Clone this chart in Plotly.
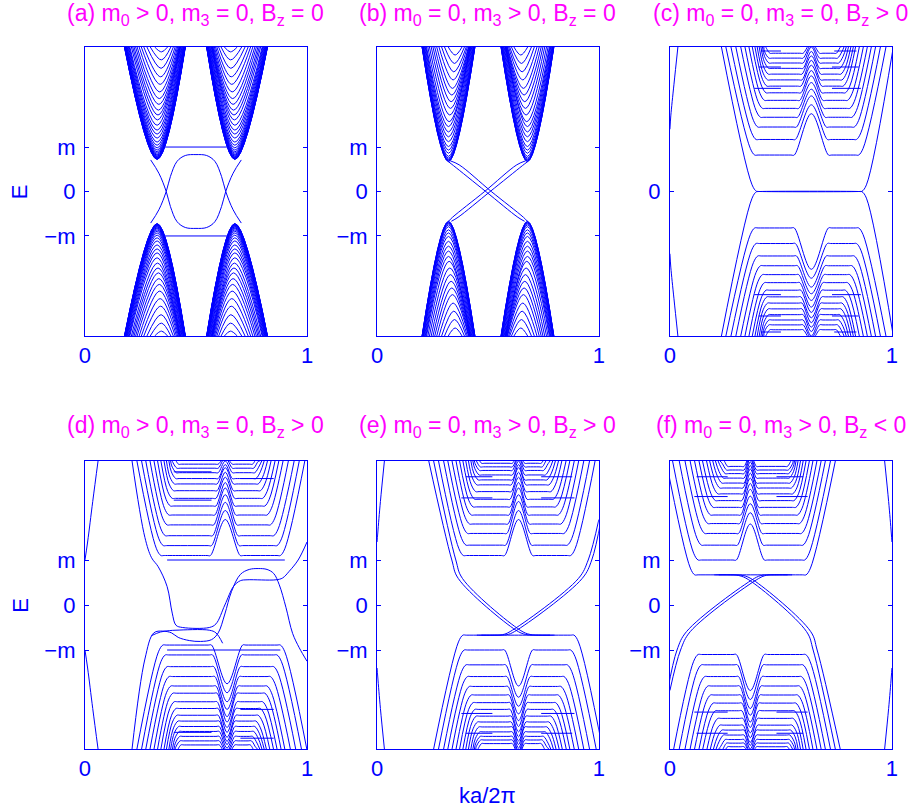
import plotly.graph_objects as go

BLUE = "#0000ff"
MAGENTA = "#ff00ff"
FONT = "Liberation Sans, Arial, sans-serif"
W, H = 918, 809

# ======================= DATA (E in units of m) =======================
# ---- (a) subbands of the upper-left valley (the other three valleys are its mirror images)
a_cone_emin = [0.72, 0.725, 0.73, 0.74, 0.75, 0.76, 0.775, 0.79, 0.81, 0.83, 0.86, 0.89, 0.93, 0.98, 1.04,
               1.11, 1.20, 1.29, 1.38, 1.49, 1.61, 1.72, 1.83, 1.96, 2.09, 2.24, 2.41, 2.58, 2.77, 2.96, 3.14]
a_cone_xc = [0.325, 0.325, 0.325, 0.325, 0.325, 0.325, 0.325, 0.325, 0.325, 0.325, 0.325, 0.325, 0.325, 0.325,
             0.325, 0.325, 0.325, 0.325, 0.325, 0.325, 0.327, 0.329, 0.331, 0.333, 0.335, 0.337, 0.339, 0.341,
             0.343, 0.344, 0.345]
a_cone_xl = [0.178, 0.178, 0.178, 0.179, 0.179, 0.179, 0.180, 0.180, 0.181, 0.181, 0.182, 0.183, 0.184, 0.186,
             0.188, 0.190, 0.193, 0.196, 0.199, 0.202, 0.209, 0.215, 0.221, 0.228, 0.235, 0.244, 0.254, 0.265,
             0.279, 0.294, 0.314]
a_cone_xr = [0.452, 0.452, 0.452, 0.451, 0.451, 0.451, 0.451, 0.450, 0.450, 0.449, 0.448, 0.448, 0.447, 0.445,
             0.444, 0.442, 0.439, 0.437, 0.434, 0.431, 0.429, 0.428, 0.426, 0.424, 0.421, 0.417, 0.412, 0.406,
             0.398, 0.387, 0.372]
a_edge_x = [0.296, 0.333, 0.366, 0.385, 0.415, 0.452, 0.50, 0.548, 0.585, 0.615, 0.634, 0.667, 0.704]
a_edge_E = [0.71, 0.41, 0.0, -0.34, -0.68, -0.81, -0.83, -0.81, -0.68, -0.34, 0.0, 0.41, 0.71]
a_flat_E = [1.0, -1.0]
a_flat_x = [0.36, 0.64]

# ---- (b)
b_cone_emin = [0.67, 0.675, 0.685, 0.70, 0.72, 0.75, 0.79, 0.86, 0.93, 1.01, 1.12, 1.23, 1.34, 1.46, 1.57,
               1.72, 1.87, 2.02, 2.17, 2.32, 2.51, 2.69, 2.88, 3.07]
b_cone_xc = [0.322, 0.322, 0.322, 0.322, 0.322, 0.322, 0.322, 0.322, 0.322, 0.322, 0.322, 0.322, 0.322, 0.322,
             0.325, 0.328, 0.331, 0.334, 0.337, 0.340, 0.343, 0.346, 0.349, 0.352]
b_cone_xl = [0.203, 0.203, 0.203, 0.204, 0.204, 0.205, 0.206, 0.207, 0.209, 0.211, 0.214, 0.217, 0.220, 0.223,
             0.229, 0.236, 0.244, 0.252, 0.260, 0.269, 0.279, 0.291, 0.304, 0.321]
b_cone_xr = [0.441, 0.441, 0.441, 0.440, 0.440, 0.439, 0.438, 0.437, 0.435, 0.433, 0.430, 0.427, 0.424, 0.421,
             0.421, 0.420, 0.418, 0.416, 0.414, 0.412, 0.407, 0.402, 0.394, 0.383]
b_edge1_x = [0.322, 0.345, 0.49, 0.635, 0.665]
b_edge1_E = [0.67, 0.58, 0.0, -0.58, -0.67]
b_edge2_x = [0.33, 0.37, 0.515, 0.66, 0.678]
b_edge2_E = [0.69, 0.60, 0.0, -0.58, -0.67]

# ---- (c) Landau-like levels (upper half; lower half is symmetric)
c_lvl_E = [0.82, 1.17, 1.45, 1.67, 1.87, 2.05, 2.22, 2.37, 2.51, 2.64, 2.77, 2.89, 3.00, 3.11]
c_lvl_xa = [0.252, 0.275, 0.297, 0.319, 0.338, 0.356, 0.371, 0.383, 0.393, 0.402, 0.410, 0.417, 0.423, 0.430]
c_lvl_xb = [0.362, 0.368, 0.376, 0.388, 0.397, 0.406, 0.413, 0.417, 0.420, 0.423, 0.425, 0.426, 0.426, 0.430]
c_lvl_xc1 = [0.560, 0.565, 0.570, 0.575, 0.580, 0.585, 0.590, 0.590, 0.595, 0.595, 0.600, 0.600, 0.600, 0.600]
c_lvl_pk = [1.75, 1.95, 2.15, 2.30, 2.45, 2.60, 2.72, 2.84, 2.95, 3.05, 3.15, 3.25, 3.30, 3.35]
c_lvl_xc2 = [0.714, 0.709, 0.704, 0.699, 0.694, 0.689, 0.684, 0.684, 0.679, 0.679, 0.674, 0.674, 0.674, 0.674]
c_lvl_xe = [0.870, 0.860, 0.850, 0.840, 0.830, 0.820, 0.810, 0.800, 0.795, 0.790, 0.785, 0.780, 0.775, 0.770]
c_lvl_xf = [0.973, 0.948, 0.926, 0.907, 0.889, 0.871, 0.853, 0.836, 0.826, 0.815, 0.804, 0.794, 0.784, 0.775]
c_mid = 0.637
c_zero_x = [0.232, 0.37, 0.39, 0.405, 0.85, 0.865, 0.885, 1.006]
c_zero_E = [3.25, 0.15, 0.005, 0.0, 0.0, 0.005, 0.15, 3.25]
c_left_x = [0.036, 0.018, 0.004, 0.0]
c_left_E = [3.25, 2.4, 1.7, 1.4]
c_flat_E = [2.32, 2.32, 2.80, 2.80, 3.16, 3.16]
c_flat_x0 = [0.38, 0.73, 0.40, 0.73, 0.41, 0.74]
c_flat_x1 = [0.50, 0.86, 0.50, 0.85, 0.50, 0.84]

# ---- (d)
d_up_E = [1.10, 1.32, 1.54, 1.78, 2.00, 2.20, 2.37, 2.54, 2.69, 2.81, 2.94, 3.04, 3.13]
d_up_xa = [0.234, 0.255, 0.274, 0.293, 0.311, 0.327, 0.342, 0.356, 0.367, 0.378, 0.386, 0.394, 0.401]
d_up_xb = [0.322, 0.333, 0.342, 0.350, 0.358, 0.365, 0.373, 0.379, 0.383, 0.389, 0.391, 0.394, 0.401]
d_up_xc1 = [0.565, 0.570, 0.575, 0.580, 0.585, 0.590, 0.590, 0.595, 0.595, 0.600, 0.600, 0.600, 0.600]
d_up_pk = [1.90, 2.10, 2.28, 2.45, 2.60, 2.72, 2.84, 2.95, 3.05, 3.12, 3.20, 3.28, 3.30]
d_up_xc2 = [0.699, 0.694, 0.689, 0.684, 0.679, 0.674, 0.674, 0.669, 0.669, 0.664, 0.664, 0.664, 0.664]
d_up_xe = [0.900, 0.885, 0.870, 0.855, 0.840, 0.830, 0.820, 0.810, 0.800, 0.790, 0.785, 0.780, 0.775]
d_up_xf = [0.990, 0.965, 0.942, 0.916, 0.892, 0.873, 0.856, 0.838, 0.822, 0.807, 0.796, 0.787, 0.778]
d_mid_up = 0.632
d_lo_E = [-0.89, -1.11, -1.37, -1.59, -1.80, -1.96, -2.15, -2.30, -2.45, -2.58, -2.70, -2.81, -2.92, -3.02, -3.11]
d_lo_xa = [0.234, 0.255, 0.274, 0.293, 0.311, 0.327, 0.342, 0.356, 0.367, 0.378, 0.386, 0.394, 0.401, 0.407, 0.412]
d_lo_xb = [0.331, 0.342, 0.350, 0.359, 0.367, 0.376, 0.382, 0.390, 0.394, 0.399, 0.402, 0.405, 0.407, 0.408, 0.412]
d_lo_xc1 = [0.570, 0.575, 0.580, 0.585, 0.590, 0.595, 0.595, 0.600, 0.600, 0.605, 0.605, 0.605, 0.605, 0.605, 0.605]
d_lo_pk = [-1.75, -1.95, -2.15, -2.32, -2.48, -2.60, -2.72, -2.83, -2.94, -3.03, -3.10, -3.18, -3.25, -3.30, -3.35]
d_lo_xc2 = [0.710, 0.705, 0.700, 0.695, 0.690, 0.685, 0.685, 0.680, 0.680, 0.675, 0.675, 0.675, 0.675, 0.675, 0.675]
d_lo_xe = [0.900, 0.885, 0.870, 0.855, 0.840, 0.830, 0.820, 0.810, 0.800, 0.790, 0.785, 0.780, 0.775, 0.770, 0.765]
d_lo_xf = [0.999, 0.975, 0.949, 0.925, 0.900, 0.883, 0.865, 0.849, 0.832, 0.817, 0.807, 0.797, 0.787, 0.778, 0.769]
d_mid_lo = 0.640
d_P_x = [0.212, 0.27, 0.30, 0.33, 0.37, 0.393, 0.41, 0.44, 0.56, 0.59, 0.63, 0.67, 0.70, 0.73, 0.86, 0.89, 0.92, 0.96, 1.0]
d_P_E = [3.2, 1.5, 1.05, 0.85, 0.41, -0.18, -0.45, -0.50, -0.50, -0.42, 0.0, 0.42, 0.54, 0.56, 0.56, 0.60, 0.75, 1.0, 1.4]
d_Q_x = [0.212, 0.27, 0.31, 0.35, 0.39, 0.42, 0.47, 0.52, 0.57, 0.60, 0.63, 0.66, 0.70, 0.74, 0.78, 0.82, 0.85,
         0.875, 0.905, 0.935, 0.965, 1.0]
d_Q_E = [-3.2, -1.2, -0.62, -0.58, -0.62, -0.72, -0.79, -0.81, -0.77, -0.62, -0.2, 0.3, 0.68, 0.79, 0.81, 0.79,
         0.70, 0.45, -0.05, -0.63, -0.95, -1.25]
d_R_x = [0.30, 0.34, 0.38, 0.41, 0.56, 0.59, 0.62]
d_R_E = [-0.68, -0.60, -0.57, -0.56, -0.56, -0.62, -0.85]
d_flat_E = [1.0, -1.0, 2.96, 2.33, 2.81, -2.32, -2.83, -2.96]
d_flat_x0 = [0.37, 0.37, 0.40, 0.40, 0.70, 0.70, 0.40, 0.70]
d_flat_x1 = [0.90, 0.88, 0.57, 0.57, 0.85, 0.85, 0.57, 0.85]
d_left_x = [0.059, 0.035, 0.012, 0.0]
d_left_E = [3.2, 2.3, 1.4, 1.0]

# ---- (e)  ((f) is its point reflection: k -> 1-k, E -> -E)
e_up_E = [1.10, 1.33, 1.59, 1.80, 2.00, 2.18, 2.35, 2.52, 2.67, 2.78, 2.89, 2.99, 3.07, 3.15]
e_up_xa = [0.277, 0.300, 0.319, 0.338, 0.356, 0.372, 0.387, 0.400, 0.412, 0.423, 0.432, 0.439, 0.445, 0.451]
e_up_xb = [0.369, 0.381, 0.388, 0.397, 0.405, 0.413, 0.420, 0.425, 0.430, 0.436, 0.440, 0.442, 0.445, 0.451]
e_up_xc1 = [0.575, 0.580, 0.585, 0.590, 0.595, 0.600, 0.600, 0.605, 0.605, 0.610, 0.610, 0.610, 0.610, 0.610]
e_up_pk = [1.90, 2.10, 2.30, 2.45, 2.60, 2.72, 2.84, 2.95, 3.05, 3.12, 3.20, 3.28, 3.30, 3.35]
e_up_xc2 = [0.701, 0.696, 0.691, 0.686, 0.681, 0.676, 0.676, 0.671, 0.671, 0.666, 0.666, 0.666, 0.666, 0.666]
e_up_xe = [0.893, 0.878, 0.863, 0.849, 0.837, 0.825, 0.815, 0.804, 0.795, 0.786, 0.779, 0.771, 0.765, 0.760]
e_up_xf = [0.983, 0.958, 0.932, 0.909, 0.889, 0.869, 0.852, 0.833, 0.818, 0.804, 0.792, 0.780, 0.771, 0.762]
e_mid = 0.638
e_lo_E = [-0.67, -1.00, -1.33, -1.59, -1.81, -2.00, -2.17, -2.32, -2.47, -2.60, -2.71, -2.82, -2.92, -3.00, -3.08]
e_lo_xa = [0.255, 0.277, 0.300, 0.319, 0.338, 0.356, 0.372, 0.387, 0.400, 0.412, 0.423, 0.432, 0.439, 0.445, 0.451]
e_lo_xb = [0.367, 0.373, 0.381, 0.388, 0.396, 0.405, 0.413, 0.421, 0.427, 0.433, 0.439, 0.443, 0.445, 0.447, 0.451]
e_lo_xc1 = [0.575, 0.575, 0.580, 0.585, 0.590, 0.595, 0.600, 0.600, 0.605, 0.605, 0.610, 0.610, 0.610, 0.610, 0.610]
e_lo_pk = [-0.67, -1.80, -2.05, -2.25, -2.42, -2.57, -2.70, -2.82, -2.93, -3.02, -3.10, -3.18, -3.25, -3.30, -3.35]
e_lo_xc2 = [0.701, 0.701, 0.696, 0.691, 0.686, 0.681, 0.676, 0.676, 0.671, 0.671, 0.666, 0.666, 0.666, 0.666, 0.666]
e_lo_xe = [0.908, 0.893, 0.878, 0.863, 0.849, 0.837, 0.825, 0.815, 0.804, 0.795, 0.786, 0.779, 0.771, 0.765, 0.760]
e_lo_xf = [1.017, 0.988, 0.958, 0.932, 0.909, 0.889, 0.869, 0.853, 0.835, 0.821, 0.807, 0.795, 0.783, 0.774, 0.765]
e_edge1_x = [0.233, 0.337, 0.366, 0.626, 0.67, 0.72, 0.78]
e_edge1_E = [3.2, 1.0, 0.59, -0.56, -0.655, -0.67, -0.67]
e_edge2_x = [0.255, 0.355, 0.385, 0.645, 0.69, 0.74, 0.80]
e_edge2_E = [3.2, 1.0, 0.59, -0.56, -0.655, -0.67, -0.67]
e_edge3_x = [0.45, 0.52, 0.565, 0.60, 0.908, 0.952, 1.0]
e_edge3_E = [-0.67, -0.67, -0.66, -0.59, 0.59, 1.0, 1.9]
e_edge4_x = [0.47, 0.54, 0.585, 0.62, 0.925, 0.968, 1.01]
e_edge4_E = [-0.67, -0.67, -0.66, -0.59, 0.59, 1.0, 1.9]
e_left_x = [0.033, 0.015, 0.003, 0.0]
e_left_E = [3.2, 2.3, 1.6, 1.4]
e_flat_E = [2.38, 2.38, 2.85, 2.85, -2.41, -2.41, -2.85, -2.85]
e_flat_x0 = [0.38, 0.74, 0.40, 0.74, 0.38, 0.74, 0.40, 0.74]
e_flat_x1 = [0.52, 0.89, 0.52, 0.88, 0.52, 0.89, 0.52, 0.88]

# tick labels / titles
y_tickvals = [-1, 0, 1]
y_ticktext = ["\u2212m", "0", "m"]
titles = [
    "(a) m<sub>0</sub> &gt; 0, m<sub>3</sub> = 0, B<sub>z</sub> = 0",
    "(b) m<sub>0</sub> = 0, m<sub>3</sub> &gt; 0, B<sub>z</sub> = 0",
    "(c) m<sub>0</sub> = 0, m<sub>3</sub> = 0, B<sub>z</sub> &gt; 0",
    "(d) m<sub>0</sub> &gt; 0, m<sub>3</sub> = 0, B<sub>z</sub> &gt; 0",
    "(e) m<sub>0</sub> = 0, m<sub>3</sub> &gt; 0, B<sub>z</sub> &gt; 0",
    "(f) m<sub>0</sub> = 0, m<sub>3</sub> &gt; 0, B<sub>z</sub> &lt; 0",
]

# ======================= helpers =======================
TOP_R, BOT_R = 3.25, 3.2   # axis half-ranges (top row, bottom row)


def cone(xl, xc, xr, emin, edge):
    return [xl, xc, xr], [edge, emin, edge]


def landau(xa, xb, xc1, xm, pk, xc2, xe, xf, L, edge):
    s = 1 if L > 0 else -1
    xs = [xa, xb, xb + 0.02, xb + 0.035, xc1 - 0.015, xc1, xm, xc2, xc2 + 0.015, xe - 0.035, xe - 0.02, xe, xf]
    ys = [edge, L + s * 0.15, L, L, L, L, pk, L, L, L, L, L + s * 0.15, edge]
    return xs, ys


def refl(c, fx=False, fy=False):
    xs, ys = c
    return ([1 - v for v in xs] if fx else list(xs)), ([-v for v in ys] if fy else list(ys))


groups = {k: [] for k in range(1, 7)}

# (a)
for xl, xc, xr, em in zip(a_cone_xl, a_cone_xc, a_cone_xr, a_cone_emin):
    c = cone(xl, xc, xr, em, TOP_R)
    groups[1] += [c, refl(c, fx=True), refl(c, fy=True), refl(c, fx=True, fy=True)]
groups[1] += [(a_edge_x, a_edge_E), refl((a_edge_x, a_edge_E), fy=True)]
for e in a_flat_E:
    groups[1].append((a_flat_x, [e, e]))

# (b)
for xl, xc, xr, em in zip(b_cone_xl, b_cone_xc, b_cone_xr, b_cone_emin):
    c = cone(xl, xc, xr, em, TOP_R)
    groups[2] += [c, refl(c, fx=True), refl(c, fy=True), refl(c, fx=True, fy=True)]
for c in [(b_edge1_x, b_edge1_E), (b_edge2_x, b_edge2_E)]:
    groups[2] += [c, refl(c, fx=True)]

# (c)
for i, L in enumerate(c_lvl_E):
    c = landau(c_lvl_xa[i], c_lvl_xb[i], c_lvl_xc1[i], c_mid, c_lvl_pk[i], c_lvl_xc2[i],
               c_lvl_xe[i], c_lvl_xf[i], L, TOP_R)
    groups[3] += [c, refl(c, fy=True)]
groups[3] += [(c_zero_x, c_zero_E), refl((c_zero_x, c_zero_E), fy=True)]
groups[3] += [(c_left_x, c_left_E), refl((c_left_x, c_left_E), fy=True)]
for e, x0, x1 in zip(c_flat_E, c_flat_x0, c_flat_x1):
    groups[3] += [([x0, x1], [e, e]), ([x0, x1], [-e, -e])]

# (d)
for i, L in enumerate(d_up_E):
    groups[4].append(landau(d_up_xa[i], d_up_xb[i], d_up_xc1[i], d_mid_up, d_up_pk[i], d_up_xc2[i],
                            d_up_xe[i], d_up_xf[i], L, BOT_R))
for i, L in enumerate(d_lo_E):
    groups[4].append(landau(d_lo_xa[i], d_lo_xb[i], d_lo_xc1[i], d_mid_lo, d_lo_pk[i], d_lo_xc2[i],
                            d_lo_xe[i], d_lo_xf[i], L, -BOT_R))
groups[4] += [(d_P_x, d_P_E), (d_Q_x, d_Q_E), (d_R_x, d_R_E)]
groups[4] += [(d_left_x, d_left_E), refl((d_left_x, d_left_E), fy=True)]
for e, x0, x1 in zip(d_flat_E, d_flat_x0, d_flat_x1):
    groups[4].append(([x0, x1], [e, e]))

# (e) and (f)
e_curves = []
for i, L in enumerate(e_up_E):
    e_curves.append(landau(e_up_xa[i], e_up_xb[i], e_up_xc1[i], e_mid, e_up_pk[i], e_up_xc2[i],
                           e_up_xe[i], e_up_xf[i], L, BOT_R))
for i, L in enumerate(e_lo_E):
    e_curves.append(landau(e_lo_xa[i], e_lo_xb[i], e_lo_xc1[i], e_mid, e_lo_pk[i], e_lo_xc2[i],
                           e_lo_xe[i], e_lo_xf[i], L, -BOT_R))
e_curves += [(e_edge1_x, e_edge1_E), (e_edge2_x, e_edge2_E), (e_edge3_x, e_edge3_E), (e_edge4_x, e_edge4_E)]
e_curves += [(e_left_x, e_left_E), refl((e_left_x, e_left_E), fy=True)]
for e, x0, x1 in zip(e_flat_E, e_flat_x0, e_flat_x1):
    e_curves.append(([x0, x1], [e, e]))
groups[5] = e_curves
groups[6] = [refl(c, fx=True, fy=True) for c in e_curves]

# ======================= figure =======================
fig = go.Figure()
for k in range(1, 7):
    xs, ys = [], []
    for cx, cy in groups[k]:
        xs += list(cx) + [None]
        ys += list(cy) + [None]
    sfx = "" if k == 1 else str(k)
    fig.add_trace(go.Scatter(x=xs, y=ys, mode="lines", xaxis="x" + sfx, yaxis="y" + sfx,
                             line=dict(color=BLUE, width=1, shape="spline", smoothing=1),
                             hoverinfo="skip", showlegend=False, connectgaps=False))

col_px = [(80, 305), (376, 600.7), (672.7, 897.7)]
row_px = [(47, 336), (461, 749)]
layout = dict(width=W, height=H, margin=dict(l=0, r=0, t=0, b=0), autosize=False,
              paper_bgcolor="white", plot_bgcolor="white", font=dict(family=FONT, color=BLUE, size=22))
annotations = []
for k in range(1, 7):
    r, c = (k - 1) // 3, (k - 1) % 3
    x0, x1 = col_px[c]
    y0, y1 = row_px[r]
    sfx = "" if k == 1 else str(k)
    half = TOP_R if r == 0 else BOT_R
    tv, tt = (y_tickvals, y_ticktext) if k != 3 else ([0], ["0"])
    layout["xaxis" + sfx] = dict(domain=[x0 / W, x1 / W], range=[0, 1], anchor="y" + sfx,
                                 showline=True, linecolor=BLUE, linewidth=1, mirror=True,
                                 showgrid=False, zeroline=False, tickvals=[0, 1], ticktext=["0", "1"],
                                 ticks="", tickfont=dict(size=22, color=BLUE, family=FONT))
    layout["yaxis" + sfx] = dict(domain=[1 - y1 / H, 1 - y0 / H], range=[-half, half], anchor="x" + sfx,
                                 showline=True, linecolor=BLUE, linewidth=1, mirror="ticks",
                                 showgrid=False, zeroline=False, tickvals=tv, ticktext=tt,
                                 ticks="inside", ticklen=4, tickcolor=BLUE, tickwidth=1,
                                 ticklabelstandoff=4,
                                 tickfont=dict(size=22, color=BLUE, family=FONT))
    ty = 14 if r == 0 else 426
    annotations.append(dict(text=titles[k - 1], x=(x0 + x1) / 2 / W, y=1 - ty / H, xref="paper", yref="paper",
                            xanchor="center", yanchor="middle", showarrow=False,
                            font=dict(size=23, color=MAGENTA, family=FONT)))
for yc in (191.5, 605):
    annotations.append(dict(text="E", x=14 / W, y=1 - yc / H, xref="paper", yref="paper", textangle=-90,
                            xanchor="center", yanchor="middle", showarrow=False,
                            font=dict(size=22, color=BLUE, family=FONT)))
annotations.append(dict(text="ka/2\u03c0", x=488 / W, y=1 - 795 / H, xref="paper", yref="paper",
                        xanchor="center", yanchor="middle", showarrow=False,
                        font=dict(size=22, color=BLUE, family=FONT)))
layout["annotations"] = annotations
fig.update_layout(**layout)
fig.write_html("out.html")
